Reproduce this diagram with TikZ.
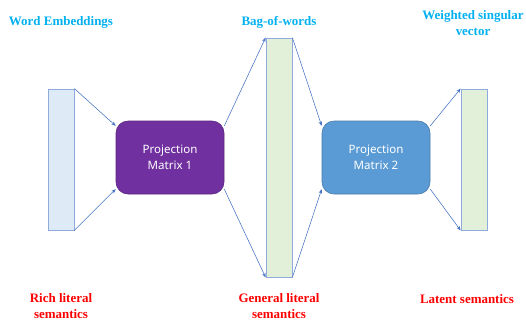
\documentclass[tikz,border=0pt]{standalone}
\usepackage{fontspec}
\setmainfont{Liberation Serif}
\newfontfamily\boxfont{Noto Sans}
\usetikzlibrary{arrows.meta,calc}
\definecolor{barblue}{HTML}{DEEBF7}
\definecolor{bargreen}{HTML}{E2F0D9}
\definecolor{baredge}{HTML}{8FAADC}
\definecolor{pmpurple}{HTML}{7030A0}
\definecolor{pmblue}{HTML}{5B9BD5}
\definecolor{linkblue}{HTML}{4472C4}
\definecolor{titleblue}{HTML}{00B0F0}
\definecolor{notered}{HTML}{FF0000}
\begin{document}
\begin{tikzpicture}[x=1bp,y=-1bp,
  vecbar/.style={draw=baredge,line width=0.8bp,minimum width=26bp,inner sep=0pt},
  projbox/.style={draw=#1!80!black,fill=#1,line width=0.6bp,rounded corners=12bp,
    minimum width=108bp,minimum height=73bp,text=white,align=center,
    font=\boxfont\fontsize{11.6}{16}\selectfont},
  link/.style={draw=linkblue,line width=0.55bp,-{Stealth[length=4.5bp,width=3.5bp]}},
  heading/.style={text=titleblue,font=\bfseries\fontsize{13}{16}\selectfont,align=center},
  remark/.style={text=notered,font=\bfseries\fontsize{13}{16}\selectfont,align=center}]
\useasboundingbox (0,0) rectangle (526,323);

% vectors
\node[vecbar,fill=barblue,minimum height=141bp] (lb) at (61,159.5) {};
\node[vecbar,fill=bargreen,minimum height=239bp] (mb) at (279,157.5) {};
\node[vecbar,fill=bargreen,minimum height=141bp] (rb) at (474,159.5) {};

% projection matrices
\node[projbox=pmpurple] (pm1) at (170,157.5) {Projection\\Matrix 1};
\node[projbox=pmblue] (pm2) at (376,157.5) {Projection\\Matrix 2};

% connectors
\draw[link] (lb.north east) -- ($(pm1.north west)!0.07!(pm1.south west)$);
\draw[link] (lb.south east) -- ($(pm1.south west)!0.07!(pm1.north west)$);
\draw[link] ($(pm1.north east)!0.07!(pm1.south east)$) -- (mb.north west);
\draw[link] ($(pm1.south east)!0.07!(pm1.north east)$) -- (mb.south west);
\draw[link] (mb.north east) -- ($(pm2.north west)!0.07!(pm2.south west)$);
\draw[link] (mb.south east) -- ($(pm2.south west)!0.07!(pm2.north west)$);
\draw[link] ($(pm2.north east)!0.07!(pm2.south east)$) -- (rb.north west);
\draw[link] ($(pm2.south east)!0.07!(pm2.north east)$) -- (rb.south west);

% headings
\node[heading] (h1) at (61,22) {Word Embeddings};
\node[heading] (h2) at (279,22) {Bag-of-words};
\node[heading] (h3) at (473,23) {Weighted singular\\vector};

% notes
\node[remark] (n1) at (61,306) {Rich literal\\semantics};
\node[remark] (n2) at (279,306) {General literal\\semantics};
\node[remark] (n3) at (467,299) {Latent semantics};
\end{tikzpicture}
\end{document}
